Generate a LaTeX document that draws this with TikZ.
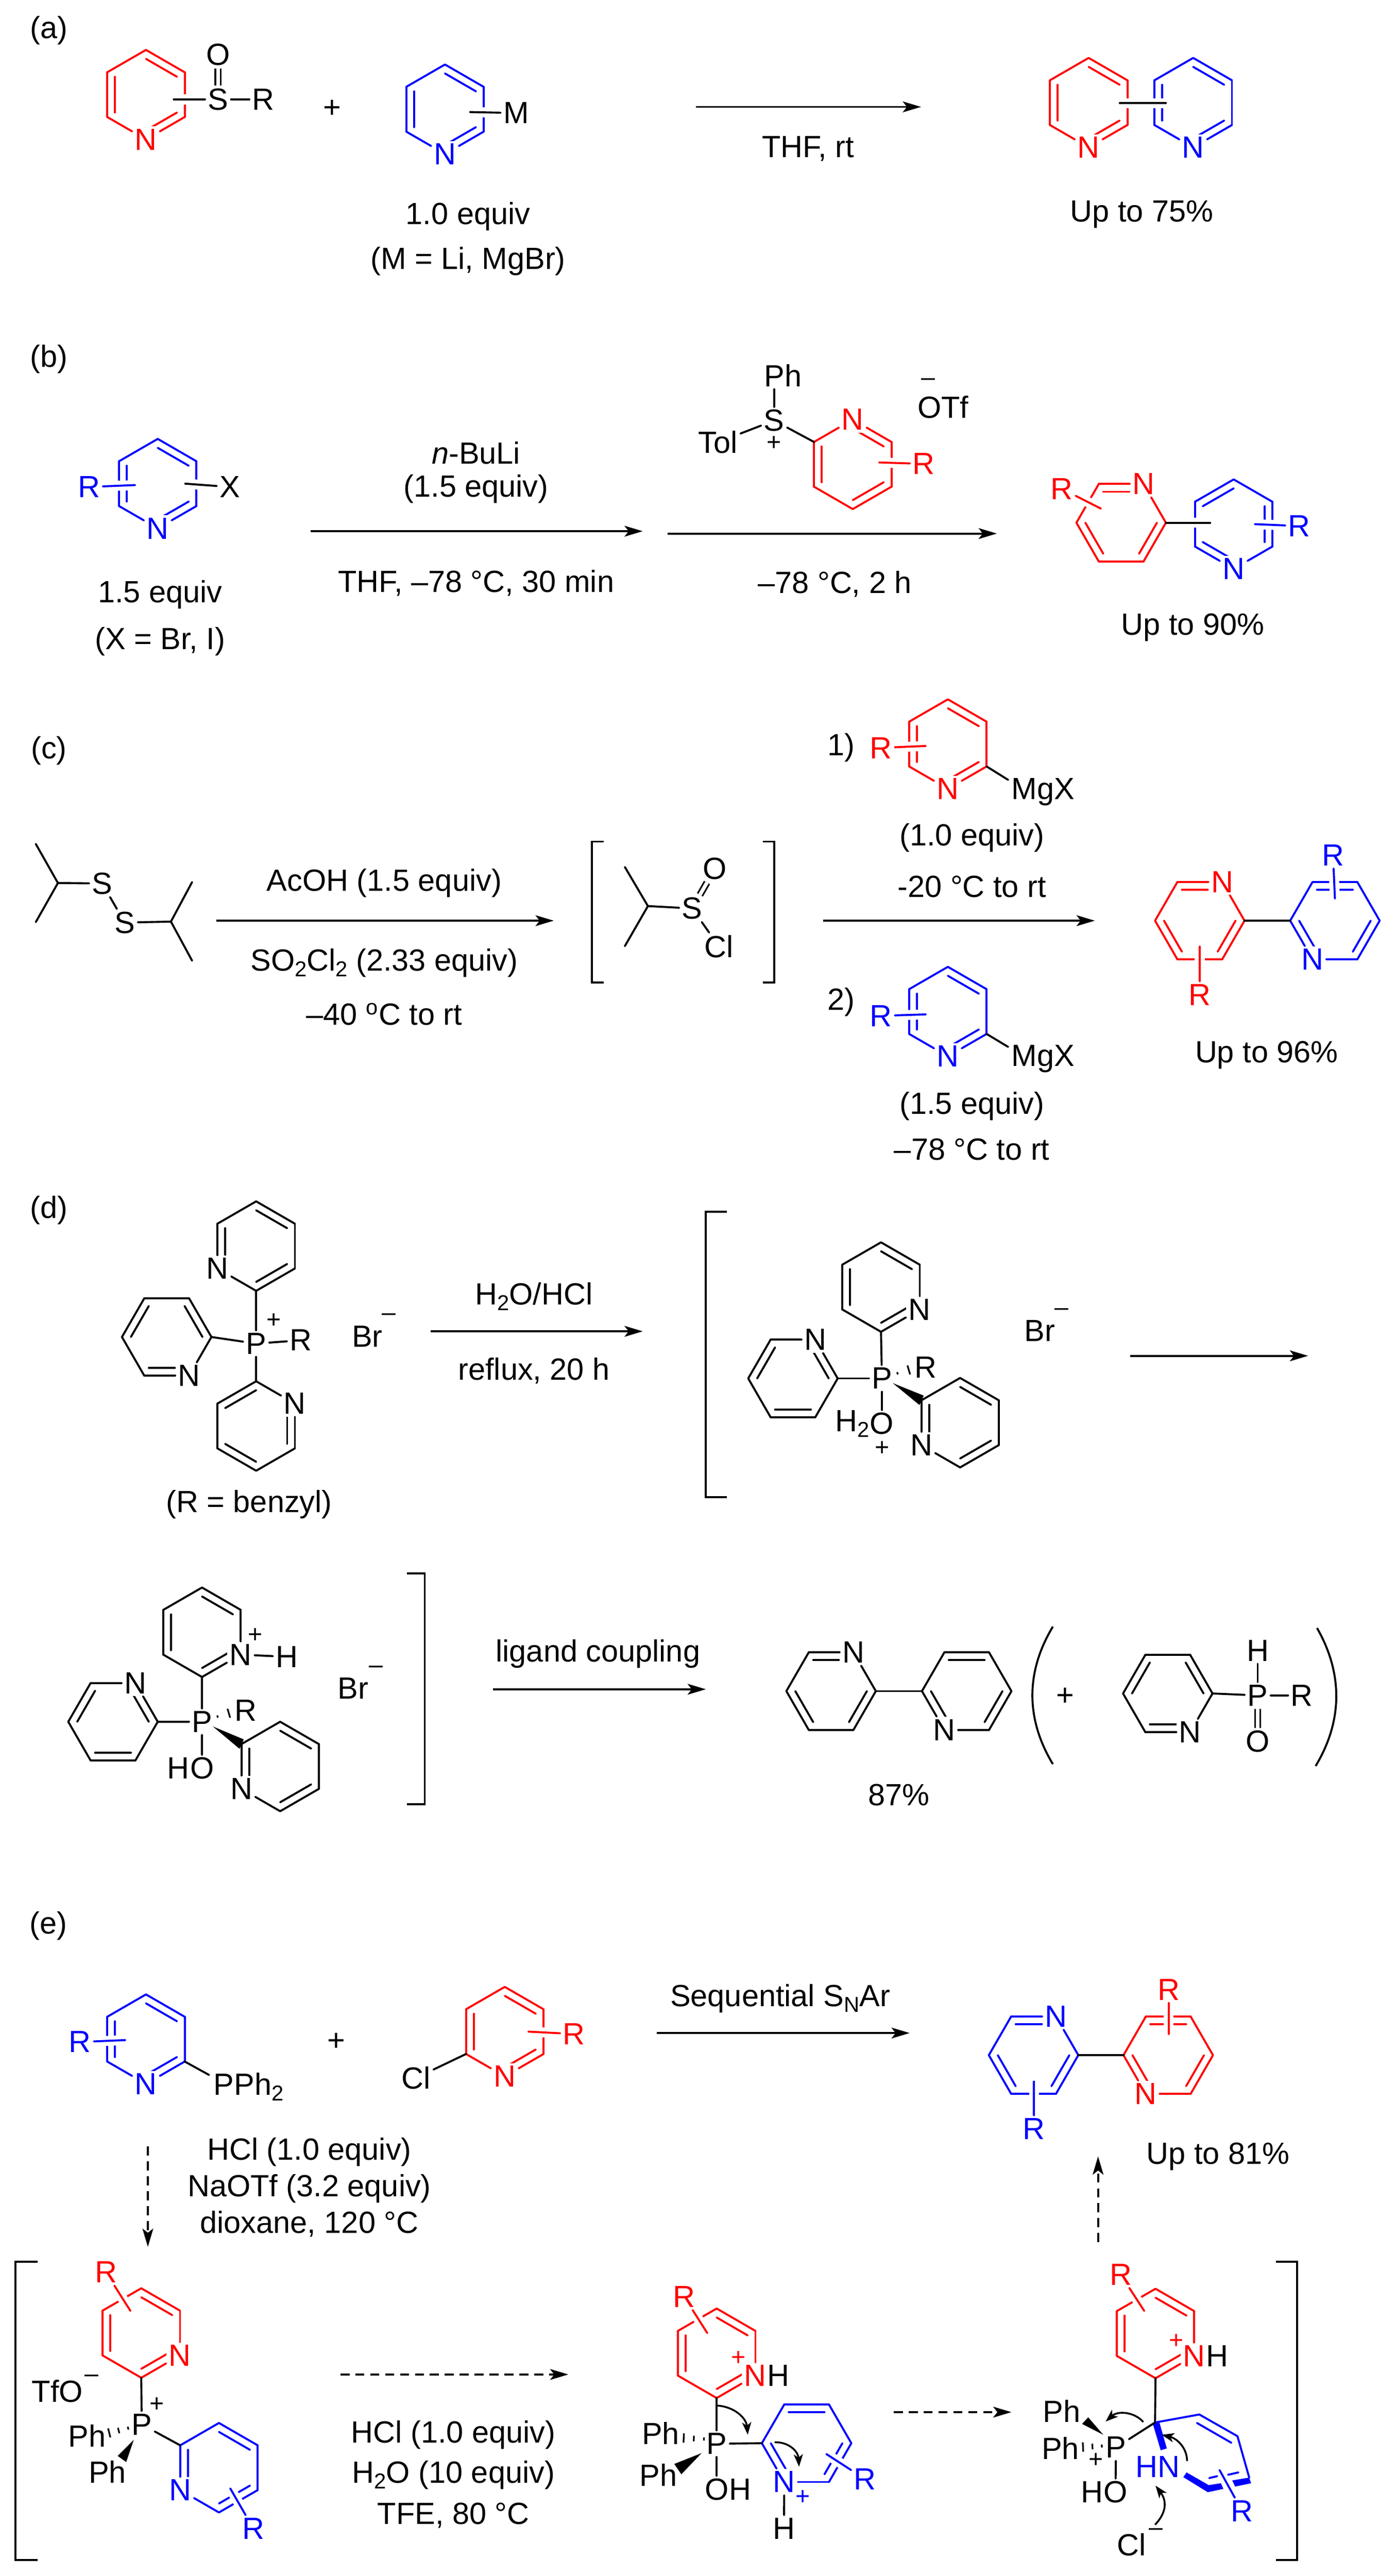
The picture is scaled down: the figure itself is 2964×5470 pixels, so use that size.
\documentclass[tikz,border=0pt]{standalone}
\usepackage{fontspec}
\setmainfont{Liberation Sans}
\usetikzlibrary{calc,arrows.meta}
\tikzset{
  atom/.style={inner sep=1.5pt,fill=white},
  lbl/.style={inner sep=0pt},
  chg/.style={inner sep=0pt,font=\fontsize{15}{15}\selectfont},
  bond/.style={line width=1.2pt,line cap=round},
  xbond/.style={bond,preaction={draw=white,line width=6pt,line cap=butt}},
  dblbond/.style={line width=1pt,double,double distance=2.2pt},
  brk/.style={line width=1.2pt},
  rxn/.style={line width=1.2pt,-{Stealth[length=11pt,width=6.5pt,inset=2.5pt]}},
  rxndash/.style={rxn,dash pattern=on 5.5pt off 3.5pt},
  curly/.style={line width=1.1pt,-{Stealth[length=7.5pt,width=5.5pt,inset=2pt]}}
}
\newcommand{\sbs}[1]{\raisebox{-0.35ex}{\fontsize{13}{13}\selectfont #1}}
\newcommand{\ring}[7]{%
  \foreach \k in {#7} {
    \pgfmathsetmacro{\ta}{#5+60*\k}
    \pgfmathsetmacro{\tb}{#5+60*\k+60}
    \draw[bond,#2] ({#3+76*cos(\ta)},{#4+76*sin(\ta)}) -- ({#3+76*cos(\tb)},{#4+76*sin(\tb)});
  }
  \foreach \k in {0,...,5} {
    \pgfmathsetmacro{\ta}{#5+60*\k}
    \ifnum\k=#6
      \node[atom,text=#2] (#1-\k) at ({#3+95*cos(\ta)},{#4+95*sin(\ta)}) {N};
    \else
      \coordinate (#1-\k) at ({#3+95*cos(\ta)},{#4+95*sin(\ta)});
    \fi
  }
  \foreach \k in {0,...,5} {
    \pgfmathtruncatemacro{\kn}{mod(\k+1,6)}
    \draw[bond,#2] (#1-\k) -- (#1-\kn);
  }
}
\newcommand{\hashbond}[3]{%
  \coordinate (hh) at ($(#1)!2!(#2)$);
  \foreach \t/\w in {#3} {
    \draw[line width=1pt] ($(#1)!\t!(#2)!\w pt!90:(hh)$) -- ($(#1)!\t!(#2)!\w pt!-90:(hh)$);
  }
}
\begin{document}
\begin{tikzpicture}[x=0.01cm,y=-0.01cm,font=\fontsize{18.5}{22}\selectfont]
  \useasboundingbox (0,0) rectangle (2964,5470);
  % (a)
  \node[lbl] (alabel) at (104,65) {(a)};
  \ring{ar1}{red}{310}{201}{270}{3}{0,2,4}
  \node[atom] (aS) at (463,211) {S};
  \node[atom] (aO) at (463,116) {O};
  \node[atom] (aR) at (559,211) {R};
  \coordinate (aS0) at (369,211);
  \draw[xbond] (aS0) -- (aS);
  \draw[bond] (aS) -- (aR);
  \draw[dblbond] (aS) -- (aO);
  \node[lbl] (aplus) at (705,231) {+};
  \ring{ar2}{blue}{945}{232}{270}{3}{0,2,4}
  \node[atom] (aM) at (1096,240) {M};
  \coordinate (aM0) at (998,238);
  \draw[xbond] (aM0) -- (aM);
  \node[lbl] (aeq) at (994,460) {1.0 equiv};
  \node[lbl] (acond) at (994,555) {(M = Li, MgBr)};
  \coordinate (aa1) at (1478,227);
  \coordinate (aa2) at (1956,227);
  \draw[rxn] (aa1) -- (aa2);
  \node[lbl] (athf) at (1716,316) {THF, rt};
  \ring{ar3}{red}{2312}{218}{270}{3}{0,2,4}
  \ring{ar4}{blue}{2534}{218}{270}{3}{0,2,4}
  \coordinate (ab1) at (2378,219);
  \coordinate (ab2) at (2476,219);
  \draw[xbond] (ab1) -- (ab2);
  \node[lbl] (ayield) at (2425,455) {Up to 75\%};
  % (b)
  \node[lbl] (blabel) at (104,763) {(b)};
  \ring{br1}{blue}{335}{1027}{270}{3}{0,2,4}
  \node[atom,text=blue] (bR1) at (189,1034) {R};
  \coordinate (bR1e) at (287,1030);
  \draw[xbond,blue] (bR1) -- (bR1e);
  \node[atom] (bX) at (488,1034) {X};
  \coordinate (bX0) at (393,1027);
  \draw[xbond] (bX0) -- (bX);
  \node[lbl] (beq) at (340,1263) {1.5 equiv};
  \node[lbl] (bcond) at (340,1362) {(X = Br, I)};
  \coordinate (ba1) at (660,1128);
  \coordinate (ba2) at (1365,1128);
  \draw[rxn] (ba1) -- (ba2);
  \node[lbl] (bbuli) at (1011,962) {\textit{n}-BuLi};
  \node[lbl] (bbueq) at (1011,1038) {(1.5 equiv)};
  \node[lbl] (bthf) at (1011,1238) {THF, –78 °C, 30 min};
  \coordinate (ba3) at (1418,1133);
  \coordinate (ba4) at (2117,1133);
  \draw[rxn] (ba3) -- (ba4);
  \node[lbl] (btemp) at (1773,1240) {–78 °C, 2 h};
  \ring{br2}{red}{1811}{986}{270}{0}{0,2,4}
  \node[atom,text=red] (bR2) at (1962,985) {R};
  \coordinate (bR2e) at (1867,982);
  \draw[xbond,red] (bR2) -- (bR2e);
  \node[atom] (bS) at (1644,893) {S};
  \node[atom] (bPh) at (1663,797) {Ph};
  \node[atom] (bTol) at (1525,939) {Tol};
  \node[chg] (bplus) at (1644,942) {+};
  \draw[bond] (bS) -- (bS|-bPh.south);
  \draw[bond] (bS) -- (bTol);
  \draw[bond] (bS) -- (br2-5);
  \node[chg] (bminus) at (1971,811) {–};
  \node[lbl] (botf) at (2003,865) {OTf};
  \ring{br3}{red}{2381}{1110}{0}{5}{0,2,4}
  \ring{br4}{blue}{2620}{1113}{270}{3}{1,3,5}
  \coordinate (bb1) at (2500,1110);
  \coordinate (bb2) at (2570,1110);
  \draw[white,line width=6pt] (bb1) -- (bb2);
  \draw[bond] (br3-0) -- (bb2);
  \node[atom,text=red] (bR3) at (2255,1038) {R};
  \coordinate (bR3e) at (2338,1080);
  \draw[xbond,red] (bR3) -- (bR3e);
  \node[atom,text=blue] (bR4) at (2759,1117) {R};
  \coordinate (bR4e) at (2665,1113);
  \draw[xbond,blue] (bR4) -- (bR4e);
  \node[lbl] (byield) at (2533,1332) {Up to 90\%};
  % (c)
  \node[lbl] (clabel) at (104,1594) {(c)};
  \node[atom] (cS1) at (217,1876) {S};
  \node[atom] (cS2) at (265,1959) {S};
  \coordinate (cc1) at (123,1875);
  \coordinate (cc2) at (76,1792);
  \coordinate (cc3) at (76,1958);
  \coordinate (cc4) at (363,1957);
  \coordinate (cc5) at (408,1873);
  \coordinate (cc6) at (408,2040);
  \draw[bond] (cc2) -- (cc1) -- (cc3);
  \draw[bond] (cc1) -- (cS1);
  \draw[bond] (cS1) -- (cS2);
  \draw[bond] (cS2) -- (cc4);
  \draw[bond] (cc5) -- (cc4) -- (cc6);
  \coordinate (ca1) at (459,1955);
  \coordinate (ca2) at (1176,1955);
  \draw[rxn] (ca1) -- (ca2);
  \node[lbl] (cacoh) at (816,1875) {AcOH (1.5 equiv)};
  \node[lbl] (cso) at (816,2045) {SO\sbs{2}Cl\sbs{2} (2.33 equiv)};
  \node[lbl] (ctemp) at (816,2154) {–40 \textsuperscript{o}C to rt};
  \draw[brk] (1282,1787) -- (1257,1787) -- (1257,2086) -- (1282,2086);
  \draw[brk] (1620,1787) -- (1644,1787) -- (1644,2086) -- (1620,2086);
  \node[atom] (cS3) at (1470,1929) {S};
  \node[atom] (cO) at (1518,1845) {O};
  \node[atom] (cCl) at (1527,2010) {Cl};
  \coordinate (cc7) at (1376,1924);
  \coordinate (cc8) at (1327,1841);
  \coordinate (cc9) at (1327,2009);
  \draw[bond] (cc8) -- (cc7) -- (cc9);
  \draw[bond] (cc7) -- (cS3);
  \draw[dblbond] (cS3) -- (cO);
  \draw[bond] (cS3) -- (cCl);
  \coordinate (ca3) at (1748,1955);
  \coordinate (ca4) at (2325,1955);
  \draw[rxn] (ca3) -- (ca4);
  \node[lbl] (cone) at (1786,1588) {1)};
  \ring{cr1}{red}{2013}{1580}{270}{3}{0,2,4}
  \node[atom,text=red] (cR1) at (1871,1588) {R};
  \coordinate (cR1e) at (1966,1584);
  \draw[xbond,red] (cR1) -- (cR1e);
  \node[atom] (cMg1) at (2215,1682) {MgX};
  \coordinate (cMg1e) at (2141,1656);
  \draw[bond] (cr1-2) -- (cMg1e);
  \node[lbl] (ceq1) at (2064,1779) {(1.0 equiv)};
  \node[lbl] (ct1) at (2064,1883) {-20 °C to rt};
  \node[lbl] (ctwo) at (1786,2128) {2)};
  \ring{cr2}{blue}{2013}{2148}{270}{3}{0,2,4}
  \node[atom,text=blue] (cR2) at (1871,2157) {R};
  \coordinate (cR2e) at (1966,2154);
  \draw[xbond,blue] (cR2) -- (cR2e);
  \node[atom] (cMg2) at (2215,2248) {MgX};
  \coordinate (cMg2e) at (2141,2223);
  \draw[bond] (cr2-2) -- (cMg2e);
  \node[lbl] (ceq2) at (2064,2349) {(1.5 equiv)};
  \node[lbl] (ct2) at (2064,2441) {–78 °C to rt};
  \ring{cr3}{red}{2548}{1955}{0}{5}{0,2,4}
  \ring{cr4}{blue}{2835}{1955}{0}{2}{0,2,4}
  \draw[bond] (cr3-0) -- (cr4-3);
  \node[atom,text=red] (cR3) at (2548,2112) {R};
  \coordinate (cR3e) at (2548,2010);
  \draw[xbond,red] (cR3) -- (cR3e);
  \node[atom,text=blue] (cR4) at (2831,1816) {R};
  \coordinate (cR4e) at (2835,1908);
  \draw[xbond,blue] (cR4) -- (cR4e);
  \node[lbl] (cyield) at (2690,2240) {Up to 96\%};
  % (d)
  \node[lbl] (dlabel) at (104,2570) {(d)};
  \ring{dr1}{black}{544}{2646}{270}{4}{0,2,4}
  \ring{dr2}{black}{354}{2839}{0}{1}{1,3,5}
  \ring{dr3}{black}{544}{3028}{270}{1}{1,3,5}
  \node[atom] (dP1) at (544,2853) {P};
  \node[chg] (dplus1) at (582,2804) {+};
  \node[atom] (dR1) at (639,2846) {R};
  \draw[bond] (dr1-3) -- (dP1);
  \draw[bond] (dr2-0) -- (dP1);
  \draw[bond] (dr3-0) -- (dP1);
  \draw[bond] (dP1) -- (dR1);
  \node[lbl] (dBr1) at (780,2838) {Br};
  \node[chg] (dm1) at (826,2797) {–};
  \node[lbl] (dbenzyl) at (529,3195) {(R = benzyl)};
  \coordinate (da1) at (915,2827);
  \coordinate (da2) at (1365,2827);
  \draw[rxn] (da1) -- (da2);
  \node[lbl] (dhcl) at (1134,2753) {H\sbs{2}O/HCl};
  \node[lbl] (dreflux) at (1134,2911) {reflux, 20 h};
  \draw[brk] (1544,2573) -- (1499,2573) -- (1499,3179) -- (1544,3179);
  \ring{dr4}{black}{1871}{2733}{270}{2}{0,2,4}
  \ring{dr5}{black}{1684}{2927}{0}{5}{1,3,5}
  \ring{dr6}{black}{2039}{3021}{270}{4}{0,2,4}
  \node[atom] (dP2) at (1873,2927) {P};
  \node[lbl] (dR2) at (1966,2903) {R};
  \node[atom] (dO2) at (1873,3023) {O};
  \node[lbl,anchor=east,xshift=1.5pt] (dH2) at (dO2.west) {H\sbs{2}};
  \node[chg] (dplus2) at (1874,3076) {+};
  \draw[bond] (dr4-3) -- (dP2);
  \draw[bond] (dr5-0) -- (dP2);
  \draw[bond] (dP2) -- (dO2);
  \coordinate (dh1) at (1906,2916);
  \coordinate (dh2) at (1930,2909);
  \hashbond{dh1}{dh2}{0/0.7,1/2.8}
  \coordinate (dw1) at (1896,2937);
  \fill (dw1) -- ($(dr6-5)+(-4,10)$) -- ($(dr6-5)+(5,-10)$) -- cycle;
  \node[lbl] (dBr2) at (2208,2826) {Br};
  \node[chg] (dm2) at (2255,2786) {–};
  \coordinate (da3) at (2400,2879);
  \coordinate (da4) at (2778,2879);
  \draw[rxn] (da3) -- (da4);
  \ring{dr7}{black}{429}{3466}{270}{2}{0,2,4}
  \ring{dr8}{black}{240}{3656}{0}{5}{1,3,5}
  \ring{dr9}{black}{595}{3751}{270}{4}{0,2,4}
  \node[chg] (dplus3) at (542,3473) {+};
  \node[atom] (dH3) at (609,3518) {H};
  \draw[bond] (dr7-2) -- (dH3);
  \node[atom] (dP3) at (429,3656) {P};
  \node[lbl] (dR3) at (522,3632) {R};
  \node[atom] (dO3) at (429,3755) {O};
  \node[lbl,anchor=east,xshift=1.5pt] (dHO) at (dO3.west) {H};
  \draw[bond] (dr7-3) -- (dP3);
  \draw[bond] (dr8-0) -- (dP3);
  \draw[bond] (dP3) -- (dO3);
  \coordinate (dh3) at (462,3645);
  \coordinate (dh4) at (486,3638);
  \hashbond{dh3}{dh4}{0/0.7,1/2.8}
  \coordinate (dw2) at (452,3666);
  \fill (dw2) -- ($(dr9-5)+(-4,10)$) -- ($(dr9-5)+(5,-10)$) -- cycle;
  \node[lbl] (dBr3) at (750,3585) {Br};
  \node[chg] (dm3) at (799,3545) {–};
  \draw[brk] (864,3341) -- (902,3341) -- (902,3831) -- (864,3831);
  \coordinate (da5) at (1047,3587);
  \coordinate (da6) at (1499,3587);
  \draw[rxn] (da5) -- (da6);
  \node[lbl] (dlig) at (1270,3512) {ligand coupling};
  \ring{dr10}{black}{1765}{3591}{0}{5}{0,2,4}
  \ring{dr11}{black}{2053}{3591}{0}{2}{0,2,4}
  \draw[bond] (dr10-0) -- (dr11-3);
  \node[lbl] (dyield) at (1909,3811) {87\%};
  \draw[brk] (2236,3454) .. controls (2178,3550) and (2178,3650) .. (2236,3746);
  \draw[brk] (2797,3457) .. controls (2852,3553) and (2852,3654) .. (2794,3750);
  \node[lbl] (dplus4) at (2262,3603) {+};
  \ring{dr12}{black}{2480}{3596}{0}{1}{1,3,5}
  \node[atom] (dP4) at (2671,3600) {P};
  \node[atom] (dR4) at (2765,3600) {R};
  \node[atom] (dH4) at (2671,3505) {H};
  \node[atom] (dO4) at (2671,3698) {O};
  \draw[bond] (dr12-0) -- (dP4);
  \draw[bond] (dP4) -- (dR4);
  \draw[bond] (dP4) -- (dH4);
  \draw[dblbond] (dP4) -- (dO4);
  % (e)
  \node[lbl] (elabel) at (103,4089) {(e)};
  \ring{er1}{blue}{310}{4330}{270}{3}{0,2,4}
  \node[atom,text=blue] (eR1) at (170,4336) {R};
  \coordinate (eR1e) at (266,4332);
  \draw[xbond,blue] (eR1) -- (eR1e);
  \node[atom,anchor=west] (ePPh) at (448,4431) {PPh\sbs{2}};
  \coordinate (eb1) at (444,4406);
  \draw[bond] (er1-2) -- (eb1);
  \node[lbl] (eplus) at (714,4336) {+};
  \ring{er2}{red}{1072}{4314}{270}{3}{0,2,4}
  \node[atom] (eCl) at (884,4412) {Cl};
  \draw[bond] (er2-4) -- (eCl);
  \node[atom,text=red] (eR2) at (1219,4319) {R};
  \coordinate (eR2e) at (1122,4314);
  \draw[xbond,red] (eR2) -- (eR2e);
  \coordinate (ea1) at (1395,4317);
  \coordinate (ea2) at (1932,4317);
  \draw[rxn] (ea1) -- (ea2);
  \node[lbl] (eseq) at (1657,4244) {Sequential S\sbs{N}Ar};
  \ring{er3}{blue}{2195}{4364}{0}{5}{0,2,4}
  \ring{er4}{red}{2481}{4364}{0}{2}{0,2,4}
  \draw[bond] (er3-0) -- (er4-3);
  \node[atom,text=blue] (eR3) at (2196,4520) {R};
  \coordinate (eR3e) at (2196,4420);
  \draw[xbond,blue] (eR3) -- (eR3e);
  \node[atom,text=red] (eR4) at (2482,4225) {R};
  \coordinate (eR4e) at (2482,4319);
  \draw[xbond,red] (eR4) -- (eR4e);
  \node[lbl] (eyield) at (2587,4579) {Up to 81\%};
  \coordinate (ea3) at (2332,4761);
  \coordinate (ea4) at (2332,4579);
  \draw[rxndash] (ea3) -- (ea4);
  \coordinate (ea5) at (314,4558);
  \coordinate (ea6) at (314,4771);
  \draw[rxndash] (ea5) -- (ea6);
  \node[lbl] (ec1) at (657,4570) {HCl (1.0 equiv)};
  \node[lbl] (ec2) at (657,4647) {NaOTf (3.2 equiv)};
  \node[lbl] (ec3) at (657,4722) {dioxane, 120 °C};
  \draw[brk] (80,4803) -- (33,4803) -- (33,5436) -- (80,5436);
  \ring{er5}{red}{300}{4954}{270}{2}{0,2,4}
  \node[atom,text=red] (eR5) at (225,4825) {R};
  \coordinate (eR5e) at (277,4907);
  \draw[xbond,red] (eR5) -- (eR5e);
  \node[lbl] (eTfO) at (122,5078) {TfO};
  \node[chg] (em1) at (195,5050) {–};
  \node[atom] (eP1) at (301,5148) {P};
  \node[chg] (eplus1) at (333,5106) {+};
  \node[atom] (ePh1) at (185,5172) {Ph};
  \node[atom] (ePh2) at (228,5249) {Ph};
  \draw[bond] (er5-3) -- (eP1);
  \coordinate (eh1) at (272,5156);
  \coordinate (eh2) at (232,5166);
  \hashbond{eh1}{eh2}{0/0.9,0.5/1.7,1/2.8}
  \coordinate (ew1) at (284,5181);
  \fill (ew1) -- (268,5228) -- (250,5215) -- cycle;
  \ring{er6}{blue}{465}{5240}{270}{4}{0,2,4}
  \draw[bond] (eP1) -- (er6-5);
  \node[atom,text=blue] (eR6) at (538,5369) {R};
  \coordinate (eR6e) at (489,5284);
  \draw[xbond,blue] (eR6) -- (eR6e);
  \coordinate (ea7) at (723,5042);
  \coordinate (ea8) at (1207,5042);
  \draw[rxndash] (ea7) -- (ea8);
  \node[lbl] (ec4) at (963,5170) {HCl (1.0 equiv)};
  \node[lbl] (ec5) at (963,5256) {H\sbs{2}O (10 equiv)};
  \node[lbl] (ec6) at (963,5341) {TFE, 80 °C};
  % middle intermediate
  \ring{er7}{red}{1522}{4997}{270}{2}{0,2,4}
  \node[lbl,anchor=west,xshift=-1.5pt] (eH7) at (er7-2.east) {H};
  \node[chg,text=red] (eplus7) at (1568,5008) {+};
  \node[atom,text=red] (eR7) at (1453,4877) {R};
  \coordinate (eR7e) at (1502,4954);
  \draw[xbond,red] (eR7) -- (eR7e);
  \node[atom] (eP2) at (1522,5189) {P};
  \node[atom] (eO2) at (1522,5286) {O};
  \node[lbl,anchor=west,xshift=-1.5pt] (eH2) at (eO2.east) {H};
  \node[lbl] (ePh3) at (1403,5167) {Ph};
  \node[lbl] (ePh4) at (1398,5256) {Ph};
  \draw[bond] (er7-3) -- (eP2);
  \draw[bond] (eP2) -- (eO2);
  \coordinate (eh3) at (1495,5179);
  \coordinate (eh4) at (1452,5177);
  \hashbond{eh3}{eh4}{0/0.9,0.5/1.7,1/2.8}
  \coordinate (ew2) at (1490,5209);
  \fill (ew2) -- (1447,5254) -- (1432,5232) -- cycle;
  \ring{er8}{blue}{1713}{5188}{0}{2}{0,2,4}
  \draw[bond] (eP2) -- (er8-3);
  \node[atom] (eH8) at (1665,5369) {H};
  \draw[bond] (er8-2) -- (eH8);
  \node[chg,text=blue] (eplus8) at (1705,5303) {+};
  \node[atom,text=blue] (eR8) at (1837,5264) {R};
  \coordinate (eR8e) at (1755,5211);
  \draw[xbond,blue] (eR8) -- (eR8e);
  \coordinate (ec1a) at (1522,5108);
  \coordinate (ec1b) at (1588,5170);
  \draw[curly] (ec1a) .. controls (1560,5110) and (1585,5135) .. (ec1b);
  \coordinate (ec2a) at (1645,5186);
  \coordinate (ec2b) at (1697,5238);
  \draw[curly] (ec2a) .. controls (1675,5185) and (1695,5205) .. (ec2b);
  \coordinate (ea9) at (1898,5122);
  \coordinate (ea10) at (2148,5122);
  \draw[rxndash] (ea9) -- (ea10);
  % right intermediate
  \ring{er9}{red}{2454}{4955}{270}{2}{0,2,4}
  \node[lbl,anchor=west,xshift=-1.5pt] (eH9) at (er9-2.east) {H};
  \node[chg,text=red] (eplus9) at (2498,4972) {+};
  \node[atom,text=red] (eR9) at (2380,4830) {R};
  \coordinate (eR9e) at (2430,4907);
  \draw[xbond,red] (eR9) -- (eR9e);
  \coordinate (eC) at (2453,5144);
  \draw[bond] (er9-3) -- (eC);
  \coordinate (eb2) at (2547,5127);
  \coordinate (eb3) at (2628,5173);
  \coordinate (eb4) at (2653,5261);
  \draw[bond,blue] (eC) -- (eb2) -- (eb3) -- (eb4);
  \draw[bond,blue] (2542,5145) -- (2615,5187);
  \draw[bond,blue] (2568,5262) -- (2585,5258);
  \draw[bond,blue] (2608,5255) -- (2630,5250);
  \fill[blue] (2448,5146) -- (2462,5143) -- (2478,5199) -- (2465,5203) -- cycle;
  \fill[blue] (2513,5260) -- (2520,5250) -- (2567,5277) -- (2593,5273) -- (2598,5285) -- (2565,5292) -- cycle;
  \fill[blue] (2617,5267) -- (2653,5261) -- (2657,5273) -- (2623,5280) -- cycle;
  \node[atom,text=blue] (eHN) at (2459,5238) {HN};
  \node[atom,text=blue] (eR10) at (2638,5332) {R};
  \coordinate (eR10e) at (2590,5245);
  \draw[bond,blue] (eR10) -- (eR10e);
  \node[lbl] (ePh5) at (2255,5120) {Ph};
  \node[lbl] (ePh6) at (2252,5199) {Ph};
  \node[atom] (eP3) at (2370,5197) {P};
  \node[chg] (eplus3) at (2327,5224) {+};
  \fill (2343,5170) -- (2298,5147) -- (2311,5133) -- cycle;
  \coordinate (eh5) at (2340,5194);
  \coordinate (eh6) at (2300,5196);
  \hashbond{eh5}{eh6}{0/0.9,0.5/1.7,1/2.8}
  \draw[bond] (eP3) -- (eC);
  \node[atom] (eO3) at (2369,5292) {O};
  \node[lbl,anchor=east,xshift=1.5pt] (eH3) at (eO3.west) {H};
  \draw[bond] (eP3) -- (eO3);
  \coordinate (ec3a) at (2428,5143);
  \coordinate (ec3b) at (2348,5142);
  \draw[curly] (ec3a) .. controls (2410,5122) and (2375,5118) .. (ec3b);
  \coordinate (ec4a) at (2521,5226);
  \coordinate (ec4b) at (2467,5170);
  \draw[curly] (ec4a) .. controls (2521,5198) and (2500,5178) .. (ec4b);
  \coordinate (ec5a) at (2453,5361);
  \coordinate (ec5b) at (2454,5278);
  \draw[curly] (ec5a) .. controls (2478,5335) and (2478,5310) .. (ec5b);
  \node[lbl] (eCl2) at (2403,5404) {Cl};
  \node[chg] (em2) at (2455,5377) {–};
  \draw[brk] (2710,4803) -- (2755,4803) -- (2755,5436) -- (2710,5436);
\end{tikzpicture}
\end{document}
